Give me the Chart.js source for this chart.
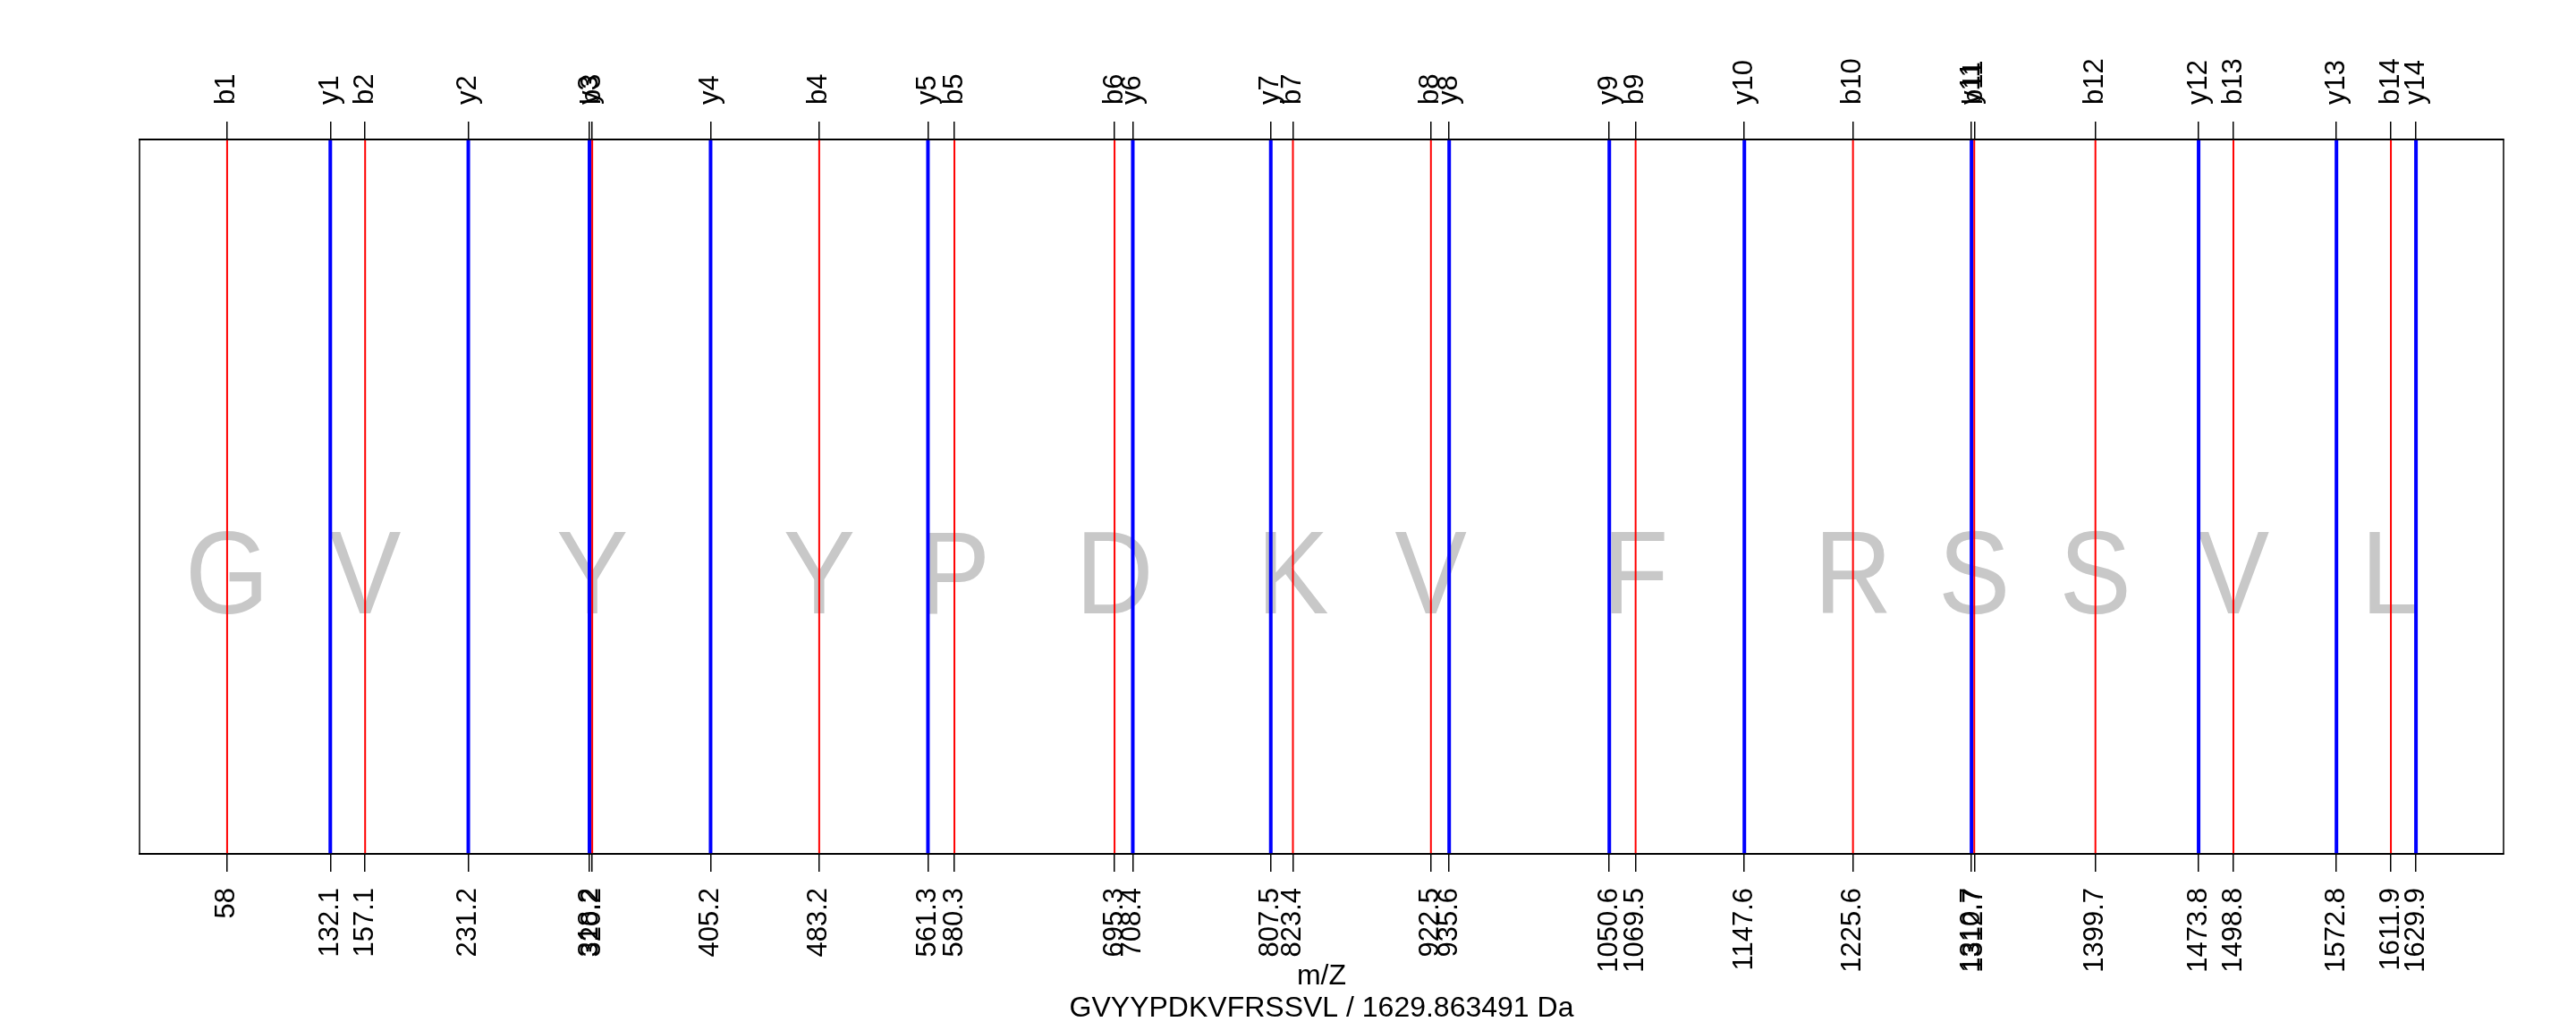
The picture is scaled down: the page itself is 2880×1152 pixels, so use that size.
<!DOCTYPE html>
<html>
<head>
<meta charset="utf-8">
<script src="https://cdn.jsdelivr.net/npm/chart.js@4/dist/chart.umd.min.js"></script>
<style>
  html, body { margin: 0; padding: 0; background: #ffffff; }
  #wrap { width: 2880px; height: 1152px; }
  canvas { display: block; }
</style>
</head>
<body>
<div id="wrap"><canvas id="c" width="2880" height="1152"></canvas></div>
<script>
// ---------------- data ----------------
const residues = ['G','V','Y','Y','P','D','K','V','F','R','S','S','V','L'];
const bIons   = [58.0, 157.1, 320.2, 483.2, 580.3, 695.3, 823.4, 922.5, 1069.5, 1225.6, 1312.7, 1399.7, 1498.8, 1611.9];
const yIons   = [132.1, 231.2, 318.2, 405.2, 561.3, 708.4, 807.5, 935.6, 1050.6, 1147.6, 1310.7, 1473.8, 1572.8, 1629.9];
const bNames  = ['b1','b2','b3','b4','b5','b6','b7','b8','b9','b10','b11','b12','b13','b14'];
const yNames  = ['y1','y2','y3','y4','y5','y6','y7','y8','y9','y10','y11','y12','y13','y14'];
const bMzLabels = ['58','157.1','320.2','483.2','580.3','695.3','823.4','922.5','1069.5','1225.6','1312.7','1399.7','1498.8','1611.9'];
const yMzLabels = ['132.1','231.2','318.2','405.2','561.3','708.4','807.5','935.6','1050.6','1147.6','1310.7','1473.8','1572.8','1629.9'];
const xAxisTitle = 'm/Z';
const peptideTitle = 'GVYYPDKVFRSSVL / 1629.863491 Da';

// ---------------- derived tables ----------------
const allIons = bIons.map((v, i) => ({ v, name: bNames[i], mz: bMzLabels[i] }))
  .concat(yIons.map((v, i) => ({ v, name: yNames[i], mz: yMzLabels[i] })))
  .sort((a, b) => a.v - b.v);
const tickValues = allIons.map(t => t.v);
const topLabels = allIons.map(t => t.name);
const bottomLabels = allIons.map(t => t.mz);

function stickData(vals) {
  const out = [];
  vals.forEach(v => { out.push({ x: v, y: 0 }); out.push({ x: v, y: 1 }); out.push({ x: v, y: null }); });
  return out;
}

const FONT = "'Liberation Sans', Arial, Helvetica, sans-serif";
const TICK_FONT_SIZE = 31;
const X_MIN = -4.9, X_MAX = 1692.8;
const LETTER_BASE = 0.3367;

const residuePlugin = {
  id: 'residues',
  beforeDatasetsDraw(chart) {
    const ctx = chart.ctx, xs = chart.scales.x, ys = chart.scales.y;
    ctx.save();
    ctx.fillStyle = '#c8c8c8';
    ctx.font = '131px ' + FONT;
    ctx.textAlign = 'center';
    ctx.textBaseline = 'alphabetic';
    residues.forEach((r, i) => {
      const px = xs.getPixelForValue(bIons[i]);
      const py = ys.getPixelForValue(LETTER_BASE);
      ctx.save();
      ctx.translate(px, py);
      ctx.scale(0.92, 1);
      ctx.fillText(r, 0, 0);
      ctx.restore();
    });
    ctx.restore();
  },
  afterDraw(chart) {
    const ctx = chart.ctx, a = chart.chartArea;
    ctx.save();
    ctx.strokeStyle = '#000';
    ctx.lineWidth = 1.5;
    ctx.strokeRect(a.left, a.top, a.right - a.left, a.bottom - a.top);
    ctx.fillStyle = '#000';
    ctx.font = '32px ' + FONT;
    ctx.textAlign = 'center';
    ctx.textBaseline = 'middle';
    const cx = (a.left + a.right) / 2;
    ctx.fillText(xAxisTitle, cx, a.bottom + 137);
    ctx.fillText(peptideTitle, cx, a.bottom + 173);
    ctx.restore();
  }
};

function setTicks(scale) { scale.ticks = tickValues.map(v => ({ value: v })); }

const axisCommon = {
  type: 'linear',
  min: X_MIN,
  max: X_MAX,
  display: true,
  grid: { drawOnChartArea: false, drawTicks: true, tickLength: 20, color: '#000', lineWidth: 1.5 },
  border: { display: true, color: '#000', width: 2 },
  afterBuildTicks: setTicks
};

new Chart(document.getElementById('c'), {
  type: 'line',
  data: {
    datasets: [
      { label: 'b', data: stickData(bIons), borderColor: '#ff0000', borderWidth: 2, pointRadius: 0, spanGaps: false, xAxisID: 'x', yAxisID: 'y' },
      { label: 'y', data: stickData(yIons), borderColor: '#0000ff', borderWidth: 4, pointRadius: 0, spanGaps: false, xAxisID: 'x', yAxisID: 'y' }
    ]
  },
  options: {
    responsive: false,
    animation: false,
    devicePixelRatio: 1,
    layout: { padding: { left: 156, right: 81, top: 0, bottom: 0 } },
    plugins: { legend: { display: false }, tooltip: { enabled: false }, title: { display: false } },
    scales: {
      x: Object.assign({}, axisCommon, {
        position: 'bottom',
        ticks: { autoSkip: false, minRotation: 90, maxRotation: 90, padding: 18, color: '#000',
                 font: { family: FONT, size: TICK_FONT_SIZE }, callback: (v, i) => bottomLabels[i] },
        afterFit(s) { s.height = 197; }
      }),
      x2: Object.assign({}, axisCommon, {
        position: 'top',
        ticks: { autoSkip: false, minRotation: 90, maxRotation: 90, padding: 19, color: '#000',
                 labelOffset: TICK_FONT_SIZE * 1.2,
                 font: { family: FONT, size: TICK_FONT_SIZE }, callback: (v, i) => topLabels[i] },
        afterFit(s) { s.height = 156; }
      }),
      y: { type: 'linear', min: 0, max: 1, display: false }
    }
  },
  plugins: [residuePlugin]
});
</script>
</body>
</html>
